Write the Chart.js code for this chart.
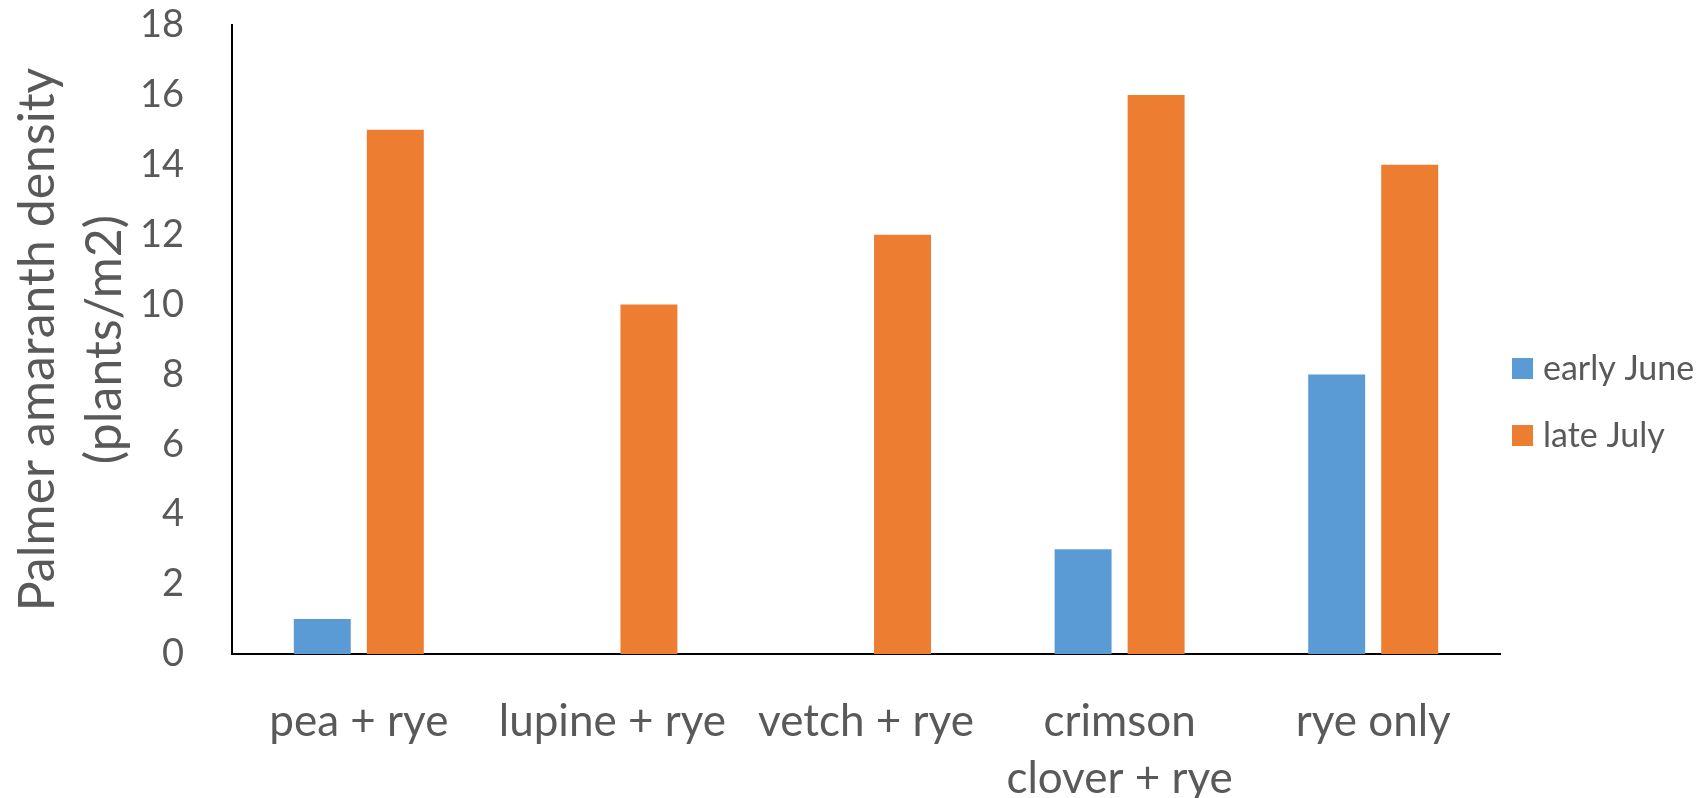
<!DOCTYPE html>
<html>
<head>
<meta charset="utf-8">
<script src="https://cdn.jsdelivr.net/npm/chart.js@4/dist/chart.umd.min.js"></script>
<style>
  html, body { margin: 0; padding: 0; background: #ffffff; }
  #wrap { width: 1701px; height: 798px; }
</style>
</head>
<body>
<div id="wrap"><canvas id="chart" width="1701" height="798"></canvas></div>
<script>
// Cover-crop treatments along the x axis (multi-line where the label wraps)
const categories = [
  'pea + rye',
  'lupine + rye',
  'vetch + rye',
  ['crimson', 'clover + rye'],
  'rye only'
];

// Palmer amaranth density, plants per square metre
const earlyJune = [1, 0, 0, 3, 8];
const lateJuly = [15, 10, 12, 16, 14];

const seriesNames = ['early June', 'late July'];
const yTicks = [0, 2, 4, 6, 8, 10, 12, 14, 16, 18];
const yTitle = ['Palmer amaranth density', '(plants/m2)'];

const FONT = 'Lato';
const TEXT = '#595959';

// Legend drawn beside the plot: a square swatch and the series name
const sideLegend = {
  id: 'sideLegend',
  afterDraw(chart) {
    const { ctx, chartArea } = chart;
    const size = 21;
    const x = chartArea.right + 12;
    const mid = chart.height / 2 + 3;
    const step = 67;
    ctx.save();
    ctx.font = '34px ' + FONT;
    ctx.textBaseline = 'middle';
    ctx.textAlign = 'left';
    chart.data.datasets.forEach((ds, i) => {
      const cy = mid + (i - (chart.data.datasets.length - 1) / 2) * step;
      ctx.fillStyle = ds.backgroundColor;
      ctx.fillRect(x, cy - size / 2, size, size);
      ctx.fillStyle = TEXT;
      ctx.fillText(ds.label, x + size + 10, cy + 1);
    });
    ctx.restore();
  }
};

new Chart(document.getElementById('chart'), {
  type: 'bar',
  data: {
    labels: categories,
    datasets: [
      { label: seriesNames[0], data: earlyJune, backgroundColor: '#5B9BD5' },
      { label: seriesNames[1], data: lateJuly, backgroundColor: '#ED7D31' }
    ]
  },
  options: {
    responsive: false,
    animation: false,
    devicePixelRatio: 1,
    layout: { padding: { left: 0, right: 201, top: 0, bottom: 0 } },
    datasets: {
      bar: { categoryPercentage: 0.576, barPercentage: 0.78 }
    },
    plugins: {
      legend: { display: false },
      tooltip: { enabled: false }
    },
    scales: {
      x: {
        afterFit(scale) {
          scale.height = 144;
          scale.paddingLeft = 0;
          scale.paddingRight = 0;
        },
        grid: { display: false, drawTicks: false },
        border: { display: true, color: '#000000', width: 2 },
        ticks: {
          color: TEXT,
          padding: 39,
          maxRotation: 0,
          autoSkip: false,
          font: { family: FONT, size: 44, lineHeight: 1.3 }
        }
      },
      y: {
        min: 0,
        max: 18,
        afterBuildTicks(scale) {
          scale.ticks = yTicks.map(v => ({ value: v }));
        },
        afterFit(scale) {
          scale.width = 232;
          scale.paddingTop = 25;
          scale.paddingBottom = 0;
        },
        grid: { display: false, drawTicks: false },
        border: { display: true, color: '#000000', width: 2 },
        ticks: {
          color: TEXT,
          padding: 48,
          font: { family: FONT, size: 38 }
        },
        title: {
          display: true,
          text: yTitle,
          color: TEXT,
          padding: { top: 4, bottom: 2 },
          font: { family: FONT, size: 50, lineHeight: 1.34 }
        }
      }
    }
  },
  plugins: [sideLegend]
});
</script>
</body>
</html>
